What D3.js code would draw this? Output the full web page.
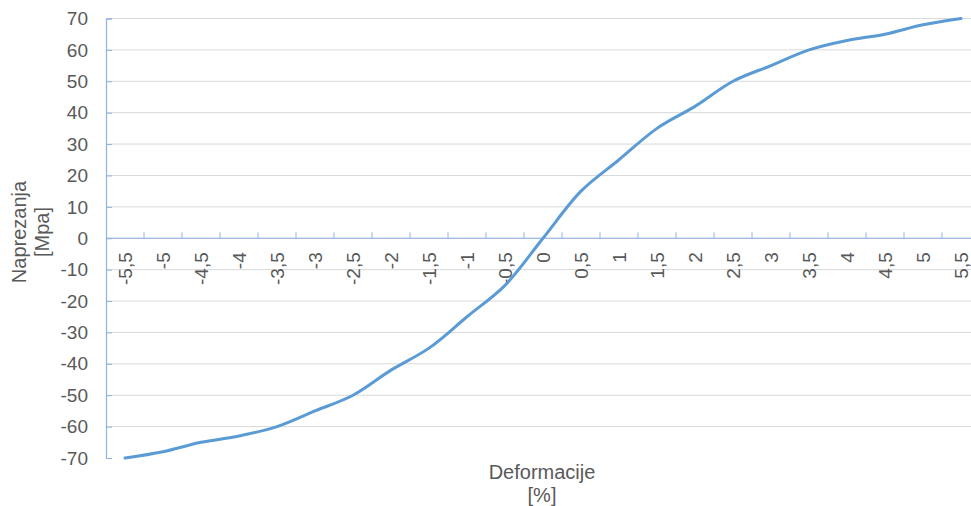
<!DOCTYPE html>
<html>
<head>
<meta charset="utf-8">
<script src="https://cdn.jsdelivr.net/npm/d3@7"></script>
<style>
  body { margin: 0; background: #fff; }
  svg { display: block; font-family: "Liberation Sans", Arial, sans-serif; }
</style>
</head>
<body>
<script>
const w = 971;
const h = 506;

// data
const strain = [-5.5, -5, -4.5, -4, -3.5, -3, -2.5, -2, -1.5, -1, -0.5, 0,
                0.5, 1, 1.5, 2, 2.5, 3, 3.5, 4, 4.5, 5, 5.5];
const stress = [-70, -68, -65, -63, -60, -55, -50, -42, -35, -25, -15, 0,
                15, 25, 35, 42, 50, 55, 60, 63, 65, 68, 70];
const yTicks = [-70, -60, -50, -40, -30, -20, -10, 0, 10, 20, 30, 40, 50, 60, 70];

const fmt = v => String(v).replace(".", ",");

const margin = {left: 106, top: 18.5, bottom: 458};
const plotRight = 980;

let svg = d3.select("body")
  .append("svg")
  .attr("width", w)
  .attr("height", h);

const x = d3.scaleBand()
  .domain(strain)
  .range([margin.left, plotRight]);

const y = d3.scaleLinear()
  .domain([-70, 70])
  .range([margin.bottom, margin.top]);

// gridlines
svg.append("g")
  .selectAll("line")
  .data(yTicks.filter(d => d !== -70))
  .enter()
  .append("line")
  .attr("x1", margin.left)
  .attr("x2", w)
  .attr("y1", d => y(d))
  .attr("y2", d => y(d))
  .attr("stroke", "#d9d9d9")
  .attr("stroke-width", 1);

// y axis
const yAxis = d3.axisRight(y)
  .tickValues(yTicks)
  .tickSize(6)
  .tickFormat("");

const gy = svg.append("g")
  .attr("transform", `translate(${margin.left},0)`)
  .call(yAxis);
gy.select(".domain").attr("stroke", "#8db3e2").attr("stroke-width", 1.2);
gy.selectAll(".tick line").attr("stroke", "#8db3e2");

svg.append("g")
  .selectAll("text")
  .data(yTicks)
  .enter()
  .append("text")
  .attr("x", 88)
  .attr("y", d => y(d))
  .attr("dy", "0.35em")
  .attr("text-anchor", "end")
  .attr("font-size", 19)
  .attr("fill", "#595959")
  .text(d => d);

// x axis along y = 0, ticks between categories
const gx = svg.append("g")
  .attr("transform", `translate(0,${y(0)})`);

gx.append("line")
  .attr("x1", margin.left)
  .attr("x2", w)
  .attr("stroke", "#8db3e2")
  .attr("stroke-width", 1.2);

gx.selectAll("line.tk")
  .data(strain.slice(1))
  .enter()
  .append("line")
  .attr("class", "tk")
  .attr("x1", d => x(d))
  .attr("x2", d => x(d))
  .attr("y1", 0)
  .attr("y2", -6)
  .attr("stroke", "#8db3e2");

gx.selectAll("text")
  .data(strain)
  .enter()
  .append("text")
  .attr("transform", d => `translate(${x(d) + x.bandwidth() / 2},14) rotate(-90)`)
  .attr("dy", "0.35em")
  .attr("text-anchor", "end")
  .attr("font-size", 19)
  .attr("fill", "#595959")
  .text(d => fmt(d));

// line
const line = d3.line()
  .x((d, i) => x(strain[i]) + x.bandwidth() / 2)
  .y(d => y(d))
  .curve(d3.curveCatmullRom.alpha(0.5));

svg.append("path")
  .datum(stress)
  .attr("d", line)
  .attr("fill", "none")
  .attr("stroke", "#5b9bd5")
  .attr("stroke-width", 3)
  .attr("stroke-linecap", "round");

// axis titles
svg.append("text")
  .attr("transform", "translate(26,232) rotate(-90)")
  .attr("text-anchor", "middle")
  .attr("font-size", 20)
  .attr("fill", "#595959")
  .text("Naprezanja");

svg.append("text")
  .attr("transform", "translate(49,232) rotate(-90)")
  .attr("text-anchor", "middle")
  .attr("font-size", 20)
  .attr("fill", "#595959")
  .text("[Mpa]");

svg.append("text")
  .attr("x", 542)
  .attr("y", 479)
  .attr("text-anchor", "middle")
  .attr("font-size", 20)
  .attr("fill", "#595959")
  .text("Deformacije");

svg.append("text")
  .attr("x", 542)
  .attr("y", 502)
  .attr("text-anchor", "middle")
  .attr("font-size", 20)
  .attr("fill", "#595959")
  .text("[%]");
</script>
</body>
</html>
